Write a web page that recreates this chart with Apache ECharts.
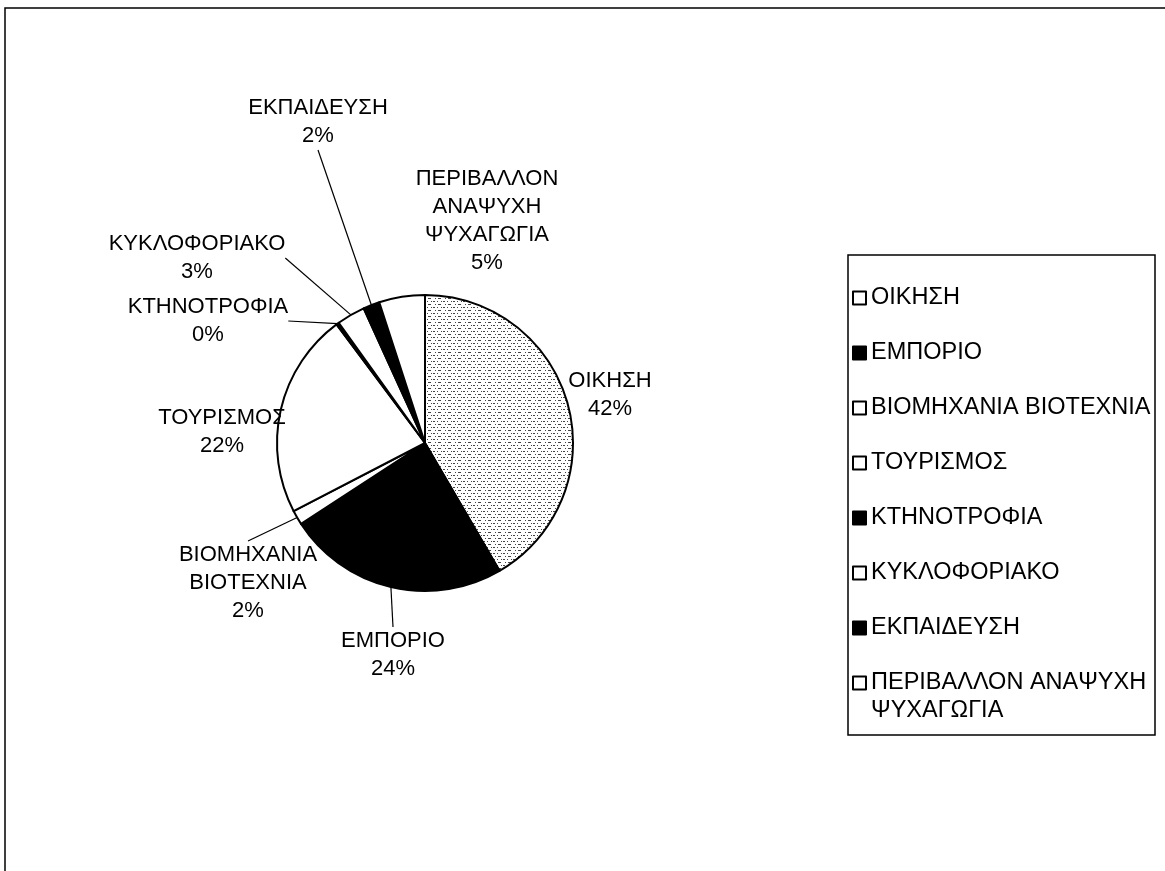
<!DOCTYPE html>
<html>
<head>
<meta charset="utf-8">
<script src="https://cdn.jsdelivr.net/npm/echarts@6/dist/echarts.min.js"></script>
<style>
html,body{margin:0;padding:0;background:#fff;}
#chart{width:1165px;height:871px;}
</style>
</head>
<body>
<div id="chart"></div>
<script>
// ---- data ----
const categories = ['ΟΙΚΗΣΗ','ΕΜΠΟΡΙΟ','ΒΙΟΜΗΧΑΝΙΑ ΒΙΟΤΕΧΝΙΑ','ΤΟΥΡΙΣΜΟΣ','ΚΤΗΝΟΤΡΟΦΙΑ','ΚΥΚΛΟΦΟΡΙΑΚΟ','ΕΚΠΑΙΔΕΥΣΗ','ΠΕΡΙΒΑΛΛΟΝ ΑΝΑΨΥΧΗ ΨΥΧΑΓΩΓΙΑ'];
const shares = [41.6, 24.2, 1.6, 22.4, 0.3, 3.1, 1.8, 5.0];

// ---- styling / layout (not data) ----
const FONT = 'Liberation Sans, Arial, sans-serif';
const FS = 22;
const LFS = 23.5;
const LH = 28;
const fills = ['pattern','#000','#fff','#fff','#000','#fff','#000','#fff'];
const showLine = [false,true,true,false,true,true,true,false];
const labelAt = [[610,395],[393,655],[248,583],[222,432],[208,321],[197,258],[318,122],[487,221]];

function makePattern(){
  const c = document.createElement('canvas');
  c.width = 10; c.height = 6;
  const g = c.getContext('2d');
  g.fillStyle = '#fff'; g.fillRect(0,0,10,6);
  g.fillStyle = '#444';
  [[1,1],[3,1],[4,1],[7,1],[0,4],[5,4],[8,4],[9,4]].forEach(p=>g.fillRect(p[0],p[1],1,1));
  return c;
}
const pat = {image: makePattern(), repeat: 'repeat'};

const seriesData = categories.map((name,i)=>({
  name: name,
  value: shares[i],
  itemStyle: {color: fills[i]==='pattern' ? pat : fills[i]},
  labelLine: {show: showLine[i]}
}));

const chart = echarts.init(document.getElementById('chart'), null, {renderer:'canvas'});
const legendStyle = {fontFamily: FONT, fontSize: LFS, color:'#000', lineHeight: LH};
chart.setOption({
  animation: false,
  backgroundColor: '#fff',
  graphic: [
    {type:'rect', shape:{x:5, y:8, width:1200, height:900}, style:{fill:'none', stroke:'#000', lineWidth:1.5}, silent:true},
    {type:'rect', shape:{x:848, y:255, width:307, height:480}, style:{fill:'#fff', stroke:'#000', lineWidth:1.5}, silent:true, z:-1}
  ],
  legend: [
    {
      orient:'vertical', left:852, top:284, padding:0, itemGap:27,
      itemWidth:13, itemHeight:13, icon:'rect',
      data: categories.slice(0,7).map((n,i)=>({name:n, itemStyle:{color: fills[i]==='pattern' ? '#fff' : fills[i], borderColor:'#000', borderWidth:2}})),
      textStyle: legendStyle, selectedMode:false
    },
    {
      orient:'vertical', left:852, top:641, padding:0,
      itemWidth:13, itemHeight:13, icon:'rect',
      data: [{name: categories[7], itemStyle:{color:'#fff', borderColor:'#000', borderWidth:2}}],
      formatter: function(n){ const k = n.lastIndexOf(' '); return '\n' + n.slice(0,k) + '\n' + n.slice(k+1); },
      textStyle: legendStyle, selectedMode:false
    }
  ],
  series: [{
    type:'pie',
    center:[425,443],
    radius:148,
    startAngle:90,
    clockwise:true,
    avoidLabelOverlap:false,
    itemStyle:{borderColor:'#000', borderWidth:2},
    label:{
      show:true, position:'outside',
      fontFamily: FONT, fontSize: FS, lineHeight: LH, color:'#000', align:'center',
      formatter: function(p){ return p.name.split(' ').join('\n') + '\n' + Math.round(p.percent) + '%'; }
    },
    labelLine:{length:10, length2:0, lineStyle:{color:'#000', width:1.2}, smooth:false},
    labelLayout: function(p){
      const a = labelAt[p.dataIndex];
      return {x:a[0], y:a[1], align:'center', verticalAlign:'middle'};
    },
    data: seriesData
  }]
});
</script>
</body>
</html>
